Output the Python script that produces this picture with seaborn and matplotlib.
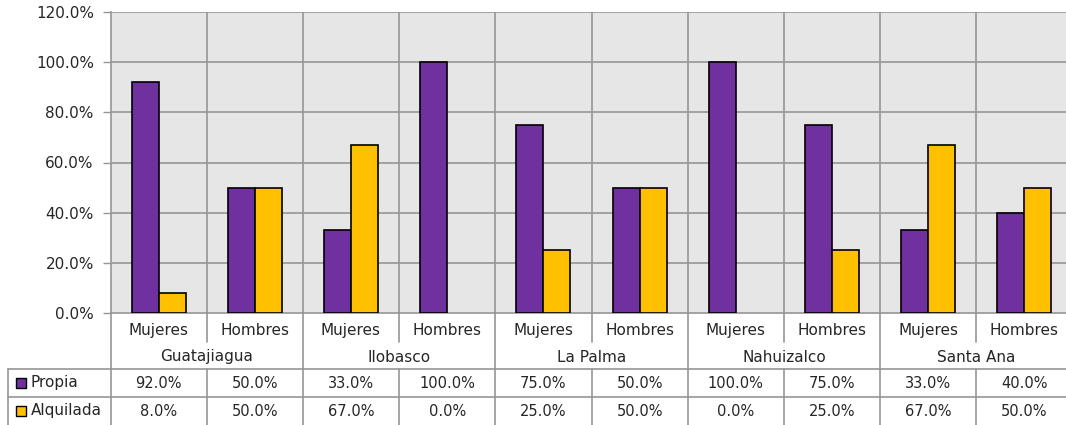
import matplotlib
matplotlib.use("Agg")
import matplotlib.pyplot as plt
import matplotlib.transforms as mtransforms
from matplotlib.lines import Line2D
from matplotlib.patches import Rectangle
import seaborn as sns
import pandas as pd

# --- data ---
cities = ["Guatajiagua", "Ilobasco", "La Palma", "Nahuizalco", "Santa Ana"]
sexes = ["Mujeres", "Hombres"]
propia = [92.0, 50.0, 33.0, 100.0, 75.0, 50.0, 100.0, 75.0, 33.0, 40.0]
alquilada = [8.0, 50.0, 67.0, 0.0, 25.0, 50.0, 0.0, 25.0, 67.0, 50.0]
series_names = ["Propia", "Alquilada"]
yticks = [0, 20, 40, 60, 80, 100, 120]

colors = {"Propia": "#7030A0", "Alquilada": "#FFC000"}
grid_col = "#969696"

# long-form frame
cats = [f"{c}|{s}" for c in cities for s in sexes]
df = pd.concat([
    pd.DataFrame({"cat": cats, "valor": propia, "tipo": "Propia"}),
    pd.DataFrame({"cat": cats, "valor": alquilada, "tipo": "Alquilada"}),
])

sns.set_theme(style="white")
plt.rcParams["font.family"] = ["DejaVu Sans"]
fs_lab = 11      # axis / category labels
fs_val = 10.5    # table values

W, H = 1066, 425
fig = plt.figure(figsize=(W / 100, H / 100), dpi=100)
px = lambda x: x / W
py = lambda y: 1 - y / H

# axes: left edge 110.5px, each category 96.2px, 0% at y=313, 120% at y=12
ax = fig.add_axes([px(110.5), py(313), px(962), (313 - 12) / H])
ax.set_facecolor("#E6E6E6")

sns.barplot(data=df, x="cat", y="valor", hue="tipo", order=cats,
            hue_order=series_names, palette=colors, width=0.56,
            edgecolor="black", linewidth=1.2, saturation=1, legend=False,
            ax=ax, zorder=3)
for p in ax.patches:
    if p.get_height() == 0:
        p.set_visible(False)

ax.set_xlim(-0.5, len(cats) - 0.5)
ax.set_ylim(0, 120)
ax.set_yticks(yticks)
ax.set_yticklabels([f"{v:.1f}%" for v in yticks], fontsize=fs_lab)
ax.set_xticks(range(len(cats)))
ax.set_xticklabels([s for c in cities for s in sexes], fontsize=fs_lab)
ax.tick_params(axis="x", length=0, pad=7)
ax.tick_params(axis="y", length=6, width=1, color=grid_col, pad=6, left=True)
ax.set_xlabel("")
ax.set_ylabel("")

# gridlines
ax.set_axisbelow(True)
for y in yticks[1:]:
    ax.axhline(y, color=grid_col, lw=1.2, zorder=1)
for x in [i + 0.5 for i in range(len(cats) - 1)]:
    ax.axvline(x, color=grid_col, lw=1.2, zorder=1)

for side in ["top", "right"]:
    ax.spines[side].set_visible(False)
for side in ["left", "bottom"]:
    ax.spines[side].set_color(grid_col)
    ax.spines[side].set_linewidth(1.2)

# --- category axis + data table below the plot ---
tr = mtransforms.blended_transform_factory(ax.transData, fig.transFigure)
lk = dict(color=grid_col, lw=1.2, transform=tr, clip_on=False)

# left edge continued
ax.add_line(Line2D([-0.5, -0.5], [py(313), py(425)], **lk))
for k in range(len(cats) - 1):
    x = k + 0.5
    if k % 2 == 1:  # city boundary
        ax.add_line(Line2D([x, x], [py(313), py(425)], **lk))
    else:
        ax.add_line(Line2D([x, x], [py(313), py(342)], **lk))
        ax.add_line(Line2D([x, x], [py(369), py(425)], **lk))

for i, c in enumerate(cities):
    ax.text(2 * i + 0.5, py(357), c, transform=tr, ha="center", va="center",
            fontsize=fs_lab)

# table frame
for y in [369, 397]:
    fig.add_artist(Line2D([px(8), 1], [py(y), py(y)], color=grid_col, lw=1.2))
fig.add_artist(Line2D([px(8), px(8)], [py(369), py(425)], color=grid_col, lw=1.2))

rows = [propia, alquilada]
row_y = [383, 411]
for name, vals, yc in zip(series_names, rows, row_y):
    fig.add_artist(Rectangle((px(16), py(yc + 5)), px(10), 10 / H,
                             facecolor=colors[name], edgecolor="black", lw=1))
    fig.text(px(31), py(yc), name, ha="left", va="center", fontsize=fs_lab)
    for k, v in enumerate(vals):
        ax.text(k, py(yc), f"{v:.1f}%", transform=tr, ha="center",
                va="center", fontsize=fs_val)

fig.savefig("out.png", dpi=100)
